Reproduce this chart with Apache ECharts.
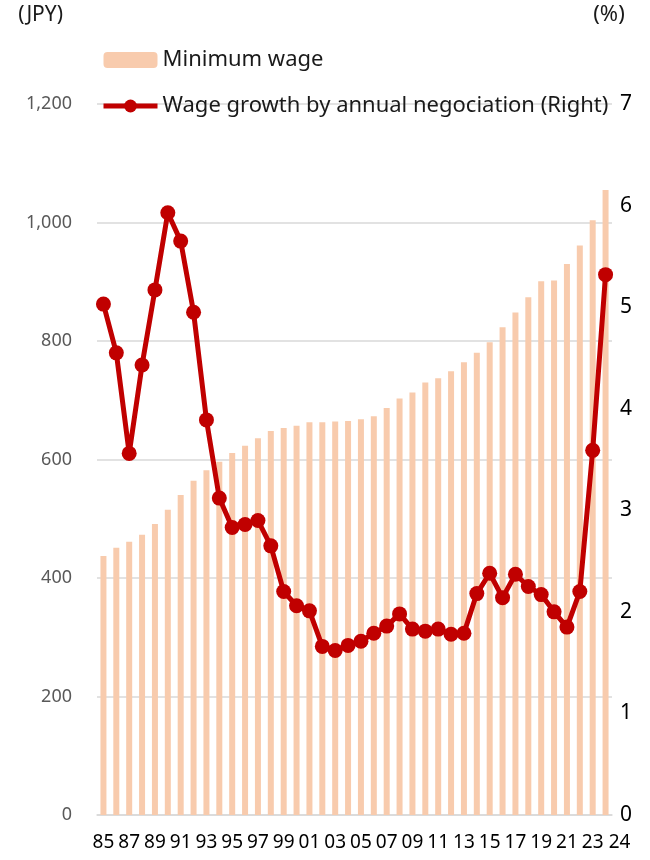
<!doctype html>
<html lang="en">

<head>
    <meta charset="utf-8">
    <title>Minimum wage and wage growth</title>
    <script src="https://cdn.jsdelivr.net/npm/echarts@6/dist/echarts.min.js"></script>
    <style>
        body { margin: 0; background: #fff; }
    </style>
</head>

<body>
    <div id="mychart" style="width:650px; height:860px;"></div>

    <script type="text/javascript">
        // years 1985 - 2024, shown as two digits
        var years = ['85', '86', '87', '88', '89', '90', '91', '92', '93', '94',
            '95', '96', '97', '98', '99', '00', '01', '02', '03', '04',
            '05', '06', '07', '08', '09', '10', '11', '12', '13', '14',
            '15', '16', '17', '18', '19', '20', '21', '22', '23', '24'];

        // minimum wage, JPY (left axis)
        var minWage = [437, 451, 461, 473, 491, 515, 540, 564, 582, 596,
            611, 623, 636, 648, 653, 657, 663, 663, 664, 665,
            668, 673, 687, 703, 713, 730, 737, 749, 764, 780,
            798, 823, 848, 874, 901, 902, 930, 961, 1004, 1055];

        // wage growth by annual negociation, % (right axis)
        var wageGrowth = [5.03, 4.55, 3.56, 4.43, 5.17, 5.93, 5.65, 4.95, 3.89, 3.12,
            2.83, 2.86, 2.90, 2.65, 2.20, 2.06, 2.01, 1.66, 1.62, 1.67,
            1.71, 1.79, 1.86, 1.98, 1.83, 1.81, 1.83, 1.78, 1.79, 2.18,
            2.38, 2.14, 2.37, 2.25, 2.17, 2.00, 1.85, 2.20, 3.59, 5.32];

        var leftTicks = [0, 200, 400, 600, 800, 1000, 1200];
        var rightTicks = [0, 1, 2, 3, 4, 5, 6, 7];

        var font = 'Noto Sans';

        var myChart = echarts.init(document.getElementById('mychart'));
        var option = {
            animation: false,
            textStyle: { fontFamily: font },
            legend: {
                orient: 'vertical',
                left: 96,
                top: 44,
                itemWidth: 54,
                itemHeight: 16,
                itemGap: 24,
                textStyle: { fontSize: 22, color: '#1a1a1a', fontFamily: font },
                data: [
                    { name: 'Minimum wage' },
                    { name: 'Wage growth by annual negociation (Right)', lineStyle: { width: 5 } }
                ]
            },
            grid: {
                left: 97,
                right: 38,
                top: 104,
                bottom: 45
            },
            xAxis: {
                type: 'category',
                data: years,
                axisLine: { lineStyle: { color: '#d9d9d9', width: 1.5 } },
                axisTick: { show: false },
                axisLabel: {
                    interval: function (i) { return i % 2 === 0 || i === years.length - 1; },
                    margin: 18,
                    fontSize: 19,
                    color: '#000',
                    fontFamily: font,
                    formatter: function (v, i) {
                        return i === years.length - 1 ? '{s|' + v + '}' : v;
                    },
                    rich: {
                        s: { fontSize: 19, color: '#000', fontFamily: font, padding: [0, 0, 0, 28] }
                    }
                }
            },
            yAxis: [
                {
                    type: 'value',
                    min: leftTicks[0],
                    max: leftTicks[leftTicks.length - 1],
                    interval: 200,
                    name: '(JPY)',
                    nameLocation: 'end',
                    nameGap: 78,
                    nameTextStyle: { fontSize: 21, color: '#1a1a1a', align: 'right', padding: [0, 34, 0, 0], fontFamily: font },
                    axisLine: { show: false },
                    axisTick: { show: false },
                    splitLine: { lineStyle: { color: '#d9d9d9', width: 1.5 } },
                    axisLabel: {
                        margin: 25,
                        fontSize: 18,
                        color: '#595959',
                        fontFamily: font,
                        formatter: function (v) { return v.toLocaleString('en-US'); }
                    }
                },
                {
                    type: 'value',
                    min: rightTicks[0],
                    max: rightTicks[rightTicks.length - 1],
                    interval: 1,
                    name: '(%)',
                    nameLocation: 'end',
                    nameGap: 78,
                    nameTextStyle: { fontSize: 22, color: '#1a1a1a', padding: [0, 6, 0, 0], fontFamily: font },
                    axisLine: { show: false },
                    axisTick: { show: false },
                    splitLine: { show: false },
                    axisLabel: {
                        margin: 8,
                        fontSize: 21,
                        color: '#000',
                        fontFamily: font
                    }
                }
            ],
            series: [
                {
                    name: 'Minimum wage',
                    type: 'bar',
                    yAxisIndex: 0,
                    barWidth: 6,
                    itemStyle: { color: '#F8CBAD' },
                    data: minWage
                },
                {
                    name: 'Wage growth by annual negociation (Right)',
                    type: 'line',
                    yAxisIndex: 1,
                    symbol: 'circle',
                    symbolSize: 15,
                    showAllSymbol: true,
                    itemStyle: { color: '#C00000' },
                    lineStyle: { color: '#C00000', width: 5 },
                    z: 5,
                    data: wageGrowth
                }
            ]
        };
        myChart.setOption(option);
    </script>

</body>

</html>
